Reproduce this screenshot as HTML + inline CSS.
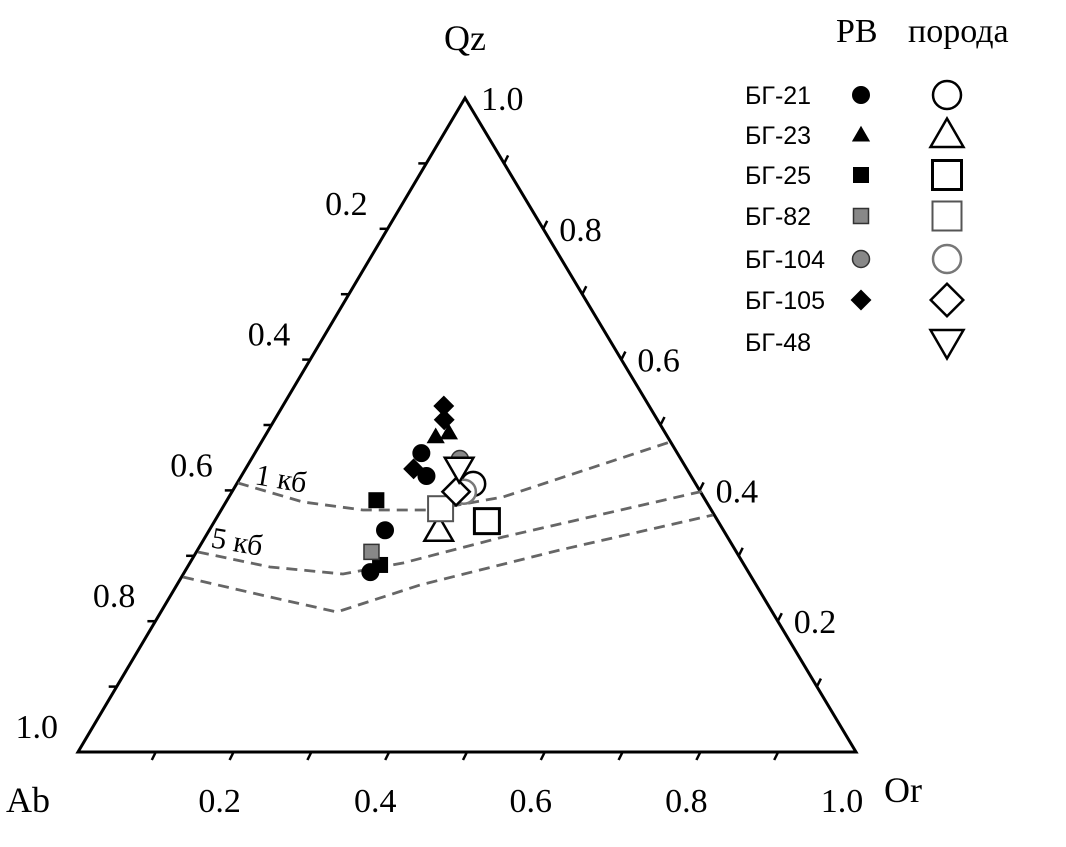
<!DOCTYPE html>
<html><head><meta charset="utf-8"><style>
body{margin:0;background:#fff}
svg text{font-family:"Liberation Serif",serif;fill:#000}
.lg{font-family:"Liberation Sans",sans-serif;font-size:25px}
</style></head><body>
<svg id="c" width="1066" height="842" viewBox="0 0 1066 842" xmlns="http://www.w3.org/2000/svg">
<g id="frame"></g><g id="curves"></g><g id="pts"></g>
<text x="465" y="50" font-size="36" text-anchor="middle">Qz</text>
<text x="6" y="812" font-size="36">Ab</text>
<text x="884" y="802" font-size="36">Or</text>
<text x="254" y="484" font-size="30" transform="rotate(10 254 484)">1 кб</text>
<text x="210" y="547" font-size="30" transform="rotate(10 210 547)">5 кб</text>
<text x="836" y="42" font-size="34">РВ</text>
<text x="908" y="42" font-size="34">порода</text>
<g id="legend"></g>
</svg>
<script>
const NS="http://www.w3.org/2000/svg";
const A=[78,752],B=[856,752],C=[465,98];
function P(qz,or){const ab=1-qz-or;return [A[0]*ab+B[0]*or+C[0]*qz,A[1]*ab+B[1]*or+C[1]*qz];}
function mk(t,a,p){const e=document.createElementNS(NS,t);for(const k in a)e.setAttribute(k,a[k]);(p||document.getElementById('frame')).appendChild(e);return e;}
const ticks=[0.1,0.2,0.3,0.4,0.5,0.6,0.7,0.8,0.9];
const leftLabels=["0.2","0.4","0.6","0.8","1.0"];
const rightLabels=["0.2","0.4","0.6","0.8","1.0"];
const bottomLabels=["0.2","0.4","0.6","0.8","1.0"];
let e=mk('polygon',{points:[A,B,C].map(p=>p.join(',')).join(' '),fill:'none',stroke:'#000','stroke-width':3});


ticks.forEach(t=>{
 let p=P(0,t);e=mk('line',{x1:p[0],y1:p[1],x2:p[0]-4,y2:p[1]+8,stroke:'#000','stroke-width':2.5});
 
 p=P(t,0);e=mk('line',{x1:p[0],y1:p[1],x2:p[0]-8,y2:p[1],stroke:'#000','stroke-width':2.5});
 
 p=P(t,1-t);e=mk('line',{x1:p[0],y1:p[1],x2:p[0]+4,y2:p[1]-8,stroke:'#000','stroke-width':2.5});
 
});
leftLabels.forEach((s,i)=>{const ab=(i+1)*0.2,p=P(1-ab,0);
 e=mk('text',{x:p[0]-20,y:p[1]-14,'font-size':34,'text-anchor':'end'});e.textContent=s;
 });
rightLabels.forEach((s,i)=>{const q=(i+1)*0.2,p=P(q,1-q);
 e=mk('text',{x:p[0]+16,y:p[1]+12,'font-size':34});e.textContent=s;
 });
bottomLabels.forEach((s,i)=>{const o=(i+1)*0.2,p=P(0,o);
 e=mk('text',{x:p[0]-14,y:p[1]+60,'font-size':34,'text-anchor':'middle'});e.textContent=s;
 });
const curve1=[[238,483],[303,502],[363,510],[430,510],[503,497],[670,442]];
const curve2=[[198,552],[270,567],[343,574],[403,563],[503,537],[708,490]];
const curve3=[[183,577],[270,597],[337,612],[343,610],[420,585],[560,550],[713,515]];
[curve1,curve2,curve3].forEach((c,i)=>{
 e=mk('path',{d:'M'+c.map(p=>p.join(',')).join(' L'),fill:'none',stroke:'#666','stroke-width':2.8,'stroke-dasharray':'11,7'},document.getElementById('curves'));
 });
// data: [Qz, Or]
const bg21=[[0.457,0.214],[0.422,0.238],[0.339,0.226],[0.275,0.239]];
const bg23=[[0.482,0.220],[0.488,0.234]];
const bg25=[[0.385,0.192],[0.286,0.246]];
const bg82=[[0.306,0.225]];
const bg104=[[0.448,0.268]];
const bg105=[[0.529,0.207],[0.508,0.218],[0.433,0.216]];
const rock21=[[0.410,0.304]];
const rock23=[[0.339,0.295]];
const rock25=[[0.353,0.350]];
const rock82=[[0.372,0.281]];
const rock104=[[0.398,0.298]];
const rock105=[[0.398,0.288]];
const rock48=[[0.434,0.274]];
function shape(type,x,y,s,fill,stroke,sw,g){
 if(type==='circle')return mk('circle',{cx:x,cy:y,r:s,fill,stroke,'stroke-width':sw},g);
 if(type==='square')return mk('rect',{x:x-s,y:y-s,width:2*s,height:2*s,fill,stroke,'stroke-width':sw},g);
 let pts;
 if(type==='tri')pts=[[x,y-s*1.1],[x+s*1.1,y+s*0.8],[x-s*1.1,y+s*0.8]];
 if(type==='itri')pts=[[x,y+s*1.1],[x+s*1.1,y-s*0.8],[x-s*1.1,y-s*0.8]];
 if(type==='diamond')pts=[[x,y-s*1.3],[x+s*1.3,y],[x,y+s*1.3],[x-s*1.3,y]];
 return mk('polygon',{points:pts.map(p=>p.join(',')).join(' '),fill,stroke,'stroke-width':sw},g);
}
const series=[
 [bg21,'circle',8.5,'#000','#000',1,'bg21-point'],
 [bg23,'tri',7.5,'#000','#000',1,'bg23-point'],
 [bg25,'square',7.5,'#000','#000',1,'bg25-point'],
 [bg82,'square',7.5,'#888','#333',1.5,'bg82-point'],
 [bg104,'circle',8.5,'#888','#333',1.5,'bg104-point'],
 [bg105,'diamond',7.5,'#000','#000',1,'bg105-point'],
 [rock21,'circle',12,'#fff','#000',2.5,'rock21-point'],
 [rock23,'tri',13,'#fff','#000',2.5,'rock23-point'],
 [rock25,'square',12.5,'#fff','#000',3,'rock25-point'],
 [rock82,'square',12.5,'#fff','#555',2,'rock82-point'],
 [rock104,'circle',12,'#fff','#777',2.5,'rock104-point'],
 [rock105,'diamond',10.5,'#fff','#000',2.5,'rock105-point'],
 [rock48,'itri',13,'#fff','#000',2.5,'rock48-point']];
const pg=document.getElementById('pts');
series.forEach(s=>s[0].forEach(d=>{const p=P(d[0],d[1]);
 const el=shape(s[1],p[0],p[1],s[2],s[3],s[4],s[5],pg);
 
 }));
const lgNames=["БГ-21","БГ-23","БГ-25","БГ-82","БГ-104","БГ-105","БГ-48"];
const lgY=[95,135,175,216,259,300,342];
const lg=document.getElementById('legend');
lgNames.forEach((n,i)=>{
 const t=mk('text',{x:745,y:lgY[i]+9,class:'lg'},lg);t.textContent=n;
 
 if(i<6){const s=series[i];const el=shape(s[1],861,lgY[i],s[2],s[3],s[4],s[5],lg);
  }
 const r=series[6+i];const el2=shape(r[1],947,lgY[i],r[2]+2,r[3],r[4],r[5],lg);
 
});
</script>
</body></html>
